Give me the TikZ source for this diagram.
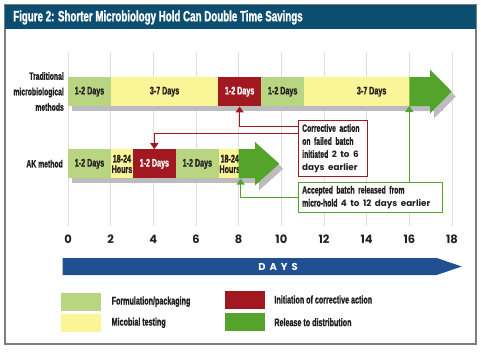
\documentclass[tikz,border=0pt]{standalone}
\usepackage{fontspec}
\setmainfont{Liberation Sans}[FakeStretch=0.65, BoldFeatures={FakeBold=1.2}]
\newfontfamily\geofont{Poppins}
\usepackage{tikz}
\usetikzlibrary{positioning}
\usetikzlibrary{shadows}
\usetikzlibrary{arrows.meta}

\definecolor{formgreen}{RGB}{185,213,130}
\definecolor{testyellow}{RGB}{250,245,150}
\definecolor{corrred}{RGB}{162,24,32}
\definecolor{relgreen}{RGB}{84,163,42}
\definecolor{daysblue}{RGB}{32,80,145}
\definecolor{titleblue}{RGB}{12,78,112}
\definecolor{shadowgray}{RGB}{188,188,190}
\definecolor{gridgray}{RGB}{222,222,222}
\definecolor{framegray}{RGB}{125,125,125}
\definecolor{inkdark}{RGB}{35,31,32}

\newcommand{\heavy}[1]{{\geofont\bfseries\fontsize{8.8}{13}\selectfont #1}}

\tikzset{
    barshadow/.style={drop shadow={shadow xshift=4pt, shadow yshift=-5pt, fill=shadowgray, opacity=1}},
    seg/.style={rectangle, minimum height=29pt, inner sep=0pt, align=center, text=inkdark,
        font=\bfseries\fontsize{11}{10.5}\selectfont, barshadow},
    dur/.style={minimum width=#1*21.33pt},
    formseg/.style={seg, fill=formgreen},
    testseg/.style={seg, fill=testyellow},
    corrseg/.style={seg, fill=corrred, text=white},
    rowlabel/.style={anchor=east, align=right, inner sep=0pt, text=inkdark,
        font=\bfseries\fontsize{10.5}{15.5}\selectfont},
    callout/.style={draw=#1, line width=1.4pt, fill=white, inner sep=3.5pt, align=left,
        anchor=north west, text=inkdark, font=\bfseries\fontsize{10.5}{13}\selectfont},
    corrlink/.style={draw=corrred, line width=1.4pt, -{Triangle[width=8pt,length=6pt]}},
    rellink/.style={draw=relgreen, line width=1.4pt, -{Triangle[width=8pt,length=6pt]}},
    legbox/.style={rectangle, minimum width=40pt, minimum height=18pt, inner sep=0pt},
    legtext/.style={inner sep=0pt, text=inkdark, font=\bfseries\fontsize{11}{12}\selectfont},
    axnum/.style={inner sep=0pt, text=inkdark, font=\geofont\bfseries\fontsize{11.5}{12}\selectfont}
}

\begin{document}
\begin{tikzpicture}[x=1pt, y=-1pt]
    \useasboundingbox (0,0) rectangle (481,359);

    % frame and title
    \draw[framegray, line width=1.5pt] (5,5) rectangle (476,344);
    \fill[titleblue] (5,5) rectangle (476,29.3);
    \node[anchor=west, inner sep=0pt, text=white, font=\bfseries\fontsize{15}{16}\selectfont] (title) at (13,17.5)
        {Figure 2: Shorter Microbiology Hold Can Double Time Savings};

    % grid and day axis
    \foreach \i in {0,...,9}
        \draw[gridgray, line width=0.8pt] (68+42.67*\i,52) -- (68+42.67*\i,226);
    \foreach \i [evaluate=\i as \d using int(2*\i)] in {0,...,9}
        \node[axnum] (ax\i) at (68+42.67*\i,239) {\d};

    \fill[daysblue] (62.7,258) -- (436.7,258) -- (461.7,266.5) -- (436.7,275) -- (62.7,275) -- cycle;
    \node[text=white, inner sep=0pt, font=\geofont\bfseries\fontsize{10}{10}\selectfont] (daylabel) at (278,266.5)
        {D\hspace{4pt}A\hspace{4pt}Y\hspace{4pt}S};

    % traditional methods
    \node[rowlabel] (tradlabel) at (64,91.5) {Traditional\\microbiological\\methods};
    \node[formseg, dur=2, anchor=north west] (t1) at (68,77) {1-2 Days};
    \node[testseg, dur=5, right=0pt of t1] (t2) {3-7 Days};
    \node[corrseg, dur=2, right=0pt of t2] (t3) {1-2 Days};
    \node[formseg, dur=2, right=0pt of t3] (t4) {1-2 Days};
    \node[testseg, dur=6.3, right=0pt of t4] (t5) {3-7 Days};
    \fill[relgreen, barshadow] (409.3,77) -- (430,77) -- (430,69.5) -- (451.7,91.5)
        -- (430,113.5) -- (430,106) -- (409.3,106) -- cycle;
    \coordinate (trel) at (409.3,106);

    % AK method
    \node[rowlabel] (aklabel) at (63,163.7) {AK method};
    \node[formseg, dur=2, anchor=north west] (a1) at (68,149.2) {1-2 Days};
    \node[testseg, dur=1, right=0pt of a1] (a2) {18-24\\Hours};
    \node[corrseg, dur=2, right=0pt of a2] (a3) {1-2 Days};
    \node[formseg, dur=2, right=0pt of a3] (a4) {1-2 Days};
    \node[testseg, dur=1, right=0pt of a4] (a5) {18-24\\Hours};
    \fill[relgreen, barshadow] (238.7,149.2) -- (255,149.2) -- (255,142) -- (279.3,163.7)
        -- (255,185.4) -- (255,178.2) -- (238.7,178.2) -- cycle;

    % callouts
    \node[callout=corrred, text width=62pt] (corrbox) at (298,120)
        {Corrective action\\on failed batch\\initiated \heavy{2 to 6}\\\heavy{days earlier}};
    \node[callout=relgreen, text width=137pt] (relbox) at (298,181.7)
        {Accepted batch released from\\micro-hold \heavy{4 to 12 days earlier}};

    \draw[corrlink] ([yshift=-6.7pt]corrbox.north west) -| (t3.south);
    \draw[corrlink] ([yshift=-13.3pt]corrbox.north west) -| (a3.north);
    \draw[rellink] (relbox.north -| trel) -- (trel);
    \draw[rellink] (relbox.west) -| (a5.south east);

    % legend
    \node[legbox, fill=formgreen] (lg1) at (81.3,301.7) {};
    \node[legtext, right=10pt of lg1] (lt1) {Formulation/packaging};
    \node[legbox, fill=testyellow] (lg2) at (81.3,322.8) {};
    \node[legtext, right=10pt of lg2] (lt2) {Micobial testing};
    \node[legbox, fill=corrred] (lg3) at (245,299.5) {};
    \node[legtext, right=9pt of lg3] (lt3) {Initiation of corrective action};
    \node[legbox, fill=relgreen] (lg4) at (245,322.2) {};
    \node[legtext, right=9pt of lg4] (lt4) {Release to distribution};

\end{tikzpicture}
\end{document}
